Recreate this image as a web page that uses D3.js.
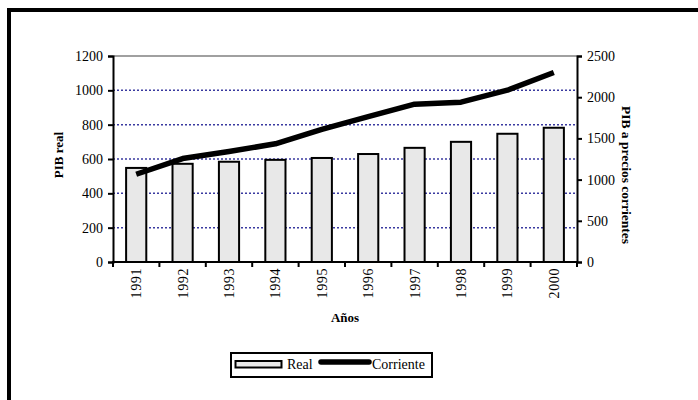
<!DOCTYPE html>
<html>
<head>
<meta charset="utf-8">
<script src="https://cdn.jsdelivr.net/npm/d3@7/dist/d3.min.js"></script>
<style>
  html, body { margin: 0; padding: 0; background: #fff; }
  svg { display: block; }
  svg text { font-family: "Liberation Serif", "Times New Roman", serif !important; fill: #000; }
</style>
</head>
<body>
<script>
// PIB real (barras, eje izquierdo) y PIB a precios corrientes (línea, eje derecho)
const years = ["1991", "1992", "1993", "1994", "1995", "1996", "1997", "1998", "1999", "2000"];
const pibReal = [548, 572, 584, 595, 606, 629, 665, 700, 747, 782];
const pibCorriente = [1065, 1255, 1340, 1435, 1610, 1765, 1915, 1940, 2085, 2300];
const leftTicks = [0, 200, 400, 600, 800, 1000, 1200];
const rightTicks = [0, 500, 1000, 1500, 2000, 2500];

const W = 698, H = 400;
const plot = { left: 113, right: 577, top: 56, bottom: 262 };
const SERIF = "'Liberation Serif', 'Times New Roman', serif";

const svg = d3.select("body").append("svg").attr("width", W).attr("height", H);

// marco exterior (solo se ven los bordes superior e izquierdo)
svg.append("rect")
  .attr("x", 9).attr("y", 10).attr("width", W + 20).attr("height", H + 20)
  .attr("fill", "none").attr("stroke", "#000").attr("stroke-width", 4);

const x = d3.scaleBand().domain(years).range([plot.left, plot.right]).paddingInner(0).paddingOuter(0);
const yL = d3.scaleLinear().domain([0, 1200]).range([plot.bottom, plot.top]);
const yR = d3.scaleLinear().domain([0, 2500]).range([plot.bottom, plot.top]);

// líneas de cuadrícula
svg.append("g").selectAll("line")
  .data(leftTicks.filter(d => d > 0 && d < 1200))
  .join("line")
  .attr("x1", plot.left).attr("x2", plot.right)
  .attr("y1", d => yL(d)).attr("y2", d => yL(d))
  .attr("stroke", "#3a3aa0").attr("stroke-width", 1.5)
  .attr("stroke-dasharray", "2,2");

svg.append("line")
  .attr("x1", plot.left).attr("x2", plot.right)
  .attr("y1", yL(1200)).attr("y2", yL(1200))
  .attr("stroke", "#808080").attr("stroke-width", 1.5);

// barras
const barW = x.bandwidth() / 2.3;
svg.append("g").selectAll("rect")
  .data(years.map((y, i) => ({ y, v: pibReal[i] })))
  .join("rect")
  .attr("x", d => x(d.y) + (x.bandwidth() - barW) / 2)
  .attr("y", d => yL(d.v))
  .attr("width", barW)
  .attr("height", d => yL(0) - yL(d.v))
  .attr("fill", "#e8e8e8")
  .attr("stroke", "#000").attr("stroke-width", 2);

// línea de PIB corriente
const line = d3.line()
  .x((d, i) => x(years[i]) + x.bandwidth() / 2)
  .y(d => yR(d));
svg.append("path")
  .datum(pibCorriente)
  .attr("d", line)
  .attr("fill", "none").attr("stroke", "#000")
  .attr("stroke-width", 5.5).attr("stroke-linejoin", "round");

// ejes
const fmt = d3.format("d");
const axL = svg.append("g").attr("transform", `translate(${plot.left},0)`)
  .call(d3.axisLeft(yL).tickValues(leftTicks).tickFormat(fmt).tickSize(5).tickPadding(5));
const axR = svg.append("g").attr("transform", `translate(${plot.right},0)`)
  .call(d3.axisRight(yR).tickValues(rightTicks).tickFormat(fmt).tickSize(5).tickPadding(5));
const boundaries = d3.range(years.length + 1).map(i => plot.left + i * x.bandwidth());
const axB = svg.append("g").attr("transform", `translate(0,${plot.bottom})`);
axB.append("line").attr("x1", plot.left - 1).attr("x2", plot.right + 1)
  .attr("stroke", "#000").attr("stroke-width", 2);
axB.selectAll(".tk").data(boundaries).join("line")
  .attr("x1", d => d).attr("x2", d => d).attr("y1", 0).attr("y2", 5)
  .attr("stroke", "#000").attr("stroke-width", 2);
axB.selectAll("text").data(years).join("text")
  .attr("transform", d => `translate(${x(d) + x.bandwidth() / 2},6) rotate(-90)`)
  .attr("text-anchor", "end").attr("dy", "0.35em")
  .style("font-family", SERIF).style("font-size", "14px")
  .style("letter-spacing", "0.6px").text(d => d);

[axL, axR].forEach(ax => {
  ax.attr("font-family", null).attr("font-size", null);
  ax.select(".domain").attr("stroke", "#000").attr("stroke-width", 2);
  ax.selectAll(".tick line").attr("stroke", "#000").attr("stroke-width", 2);
  ax.selectAll(".tick text").style("font-family", SERIF).style("font-size", "14px");
});

// títulos de los ejes
svg.append("text")
  .attr("transform", `translate(63,155) rotate(-90)`)
  .attr("text-anchor", "middle").style("font-weight", "bold").style("font-size", "13px")
  .text("PIB real");
svg.append("text")
  .attr("transform", `translate(622,175) rotate(90)`)
  .attr("text-anchor", "middle").style("font-weight", "bold").style("font-size", "13.5px")
  .text("PIB a precios corrientes");
svg.append("text")
  .attr("x", 345).attr("y", 322)
  .attr("text-anchor", "middle").style("font-weight", "bold").style("font-size", "13px")
  .text("Años");

// leyenda
const lg = svg.append("g");
lg.append("rect").attr("x", 231).attr("y", 353).attr("width", 201).attr("height", 24)
  .attr("fill", "#fff").attr("stroke", "#000").attr("stroke-width", 2);
lg.append("rect").attr("x", 235.5).attr("y", 361).attr("width", 46).attr("height", 6.5)
  .attr("fill", "#e8e8e8").attr("stroke", "#000").attr("stroke-width", 2);
lg.append("text").attr("x", 287).attr("y", 369).style("font-size", "14px").text("Real");
lg.append("line").attr("x1", 321).attr("x2", 369).attr("y1", 362).attr("y2", 362)
  .attr("stroke", "#000").attr("stroke-width", 5.5).attr("stroke-linecap", "round");
lg.append("text").attr("x", 372).attr("y", 369).style("font-size", "14px").text("Corriente");
</script>
</body>
</html>
